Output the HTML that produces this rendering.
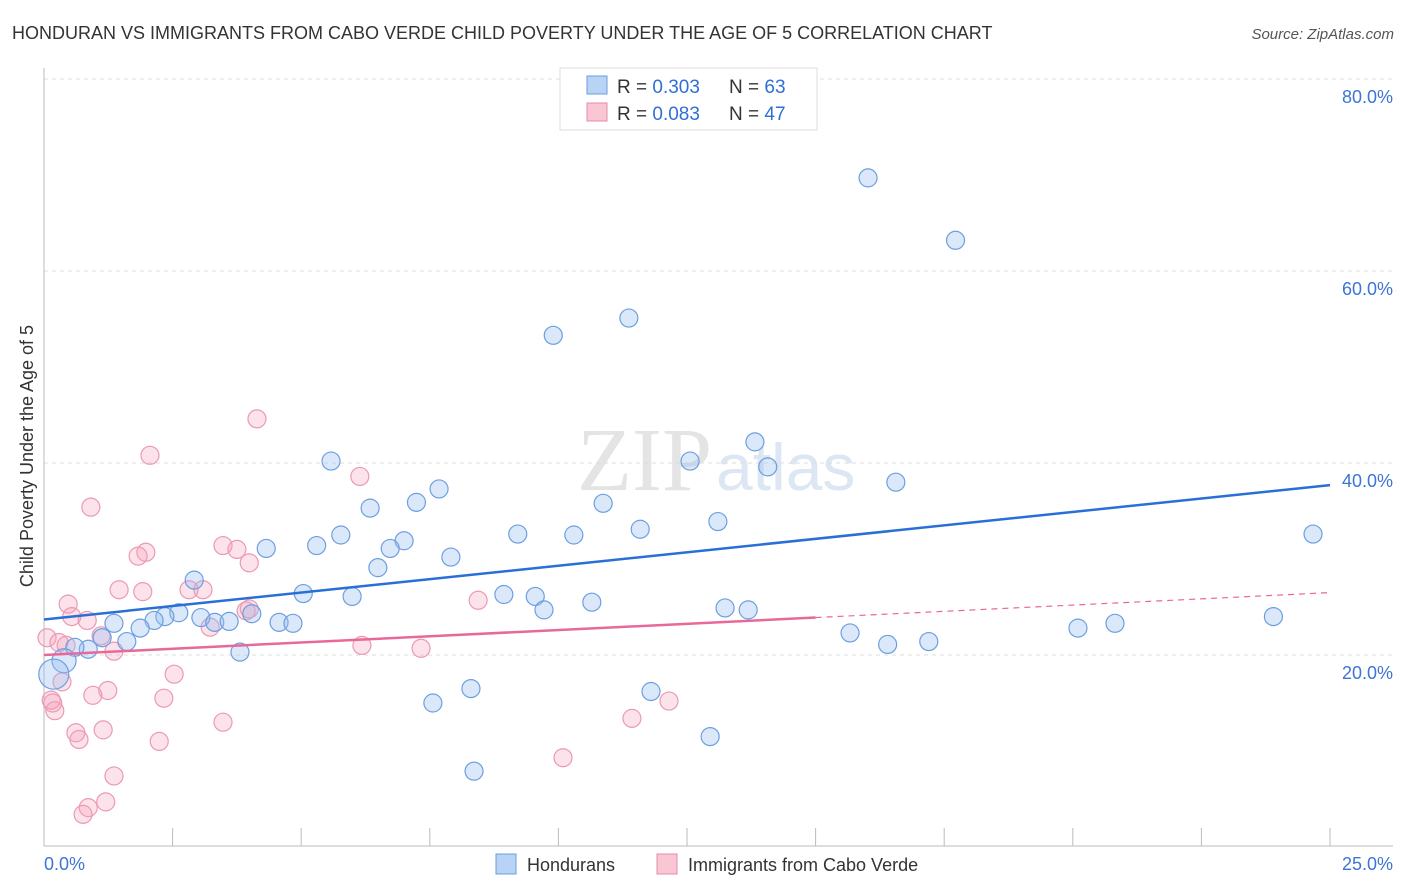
<!DOCTYPE html>
<html><head><meta charset="utf-8"><style>
body{margin:0;background:#fff;font-family:"Liberation Sans",sans-serif}
svg{display:block}
</style></head><body>
<svg id="c" width="1406" height="892">
<text x="12" y="39" font-size="18" fill="#333">HONDURAN VS IMMIGRANTS FROM CABO VERDE CHILD POVERTY UNDER THE AGE OF 5 CORRELATION CHART</text>
<text x="1394" y="39" font-size="15" fill="#555" font-style="italic" text-anchor="end">Source: ZipAtlas.com</text>
<text x="712" y="490" font-size="90" fill="#e4e4e4" text-anchor="end" font-family="Liberation Serif">ZIP</text>
<text x="716" y="490" font-size="66" fill="#dde7f4">atlas</text>
<g id="grid"></g>
<line x1="44" y1="68" x2="44" y2="846" stroke="#bbb"/>
<line x1="44" y1="846" x2="1393" y2="846" stroke="#bbb"/>
<g id="xt"></g>
<text x="44" y="870" font-size="18" fill="#3d74d6">0.0%</text>
<text x="1393" y="870" font-size="18" fill="#3d74d6" text-anchor="end">25.0%</text>
<text transform="translate(33,456) rotate(-90)" font-size="18" fill="#333" text-anchor="middle">Child Poverty Under the Age of 5</text>
<g id="pts"></g>
<g id="lines"></g>
<g>
<rect x="560" y="68" width="257" height="62" fill="#fff" stroke="#ddd"/>
<rect x="587" y="76" width="20" height="18" fill="#b8d3f4" stroke="#6a9ee0"/>
<rect x="587" y="103" width="20" height="18" fill="#f9c6d4" stroke="#e88aa8"/>
<text x="617" y="93" font-size="19" fill="#333">R = <tspan fill="#2f6fd6">0.303</tspan></text>
<text x="729" y="93" font-size="19" fill="#333">N = <tspan fill="#2f6fd6">63</tspan></text>
<text x="617" y="120" font-size="19" fill="#333">R = <tspan fill="#2f6fd6">0.083</tspan></text>
<text x="729" y="120" font-size="19" fill="#333">N = <tspan fill="#2f6fd6">47</tspan></text>
</g>
<g>
<rect x="496" y="854" width="20" height="20" fill="#b8d3f4" stroke="#6a9ee0"/>
<text x="527" y="871" font-size="18" fill="#333">Hondurans</text>
<rect x="657" y="854" width="20" height="20" fill="#f9c6d4" stroke="#e88aa8"/>
<text x="688" y="871" font-size="18" fill="#333">Immigrants from Cabo Verde</text>
</g>
</svg>
<script>
const yTicks=[20,40,60,80];
const xTicks=[0,2.5,5,7.5,10,12.5,15,17.5,20,22.5,25];
const blueX=[16.02,17.72,11.37,9.9,13.82,5.58,12.56,14.07,16.56,7.68,7.24,6.34,10.87,9.21,10.3,11.59,13.1,24.67,5.77,7.0,6.73,5.3,4.32,7.91,6.49,2.92,5.04,5.99,8.94,9.55,10.65,9.72,13.24,13.69,2.62,2.35,2.14,1.87,1.36,3.05,3.32,3.6,4.04,4.57,4.84,23.9,20.82,20.1,15.67,17.2,16.4,1.61,1.13,0.86,0.6,0.39,3.81,0.19,8.3,11.8,7.56,12.95,8.36];
const blueY=[69.7,63.2,55.1,53.3,42.2,40.2,40.2,39.6,38.0,37.3,35.9,35.3,35.8,32.6,32.5,33.1,33.9,32.6,32.5,31.9,31.1,31.4,31.1,30.2,29.1,27.8,26.4,26.1,26.3,26.1,25.5,24.7,24.9,24.7,24.4,24.0,23.6,22.8,23.3,23.9,23.4,23.5,24.3,23.4,23.3,24.0,23.3,22.8,22.3,21.4,21.1,21.4,21.8,20.6,20.8,19.4,20.3,18.0,16.5,16.2,15.0,11.5,7.9];
const blueR=[9,9,9,9,9,9,9,9,9,9,9,9,9,9,9,9,9,9,9,9,9,9,9,9,9,9,9,9,9,9,9,9,9,9,9,9,9,9,9,9,9,9,9,9,9,9,9,9,9,9,9,9,9,9,9,12,9,15,9,9,9,9,9];
const pinkX=[4.14,2.06,6.14,0.91,3.48,1.98,1.83,3.75,3.99,1.46,1.92,2.82,3.09,8.44,0.47,0.54,0.84,0.06,0.29,0.43,1.11,1.36,6.18,7.33,2.53,0.35,1.24,0.95,2.33,0.14,0.21,3.23,3.93,12.15,11.43,3.48,1.15,0.62,0.68,2.24,1.36,10.09,1.2,0.86,0.76,3.99,0.17];
const pinkY=[44.6,40.8,38.6,35.4,31.4,30.7,30.3,31.0,29.6,26.8,26.6,26.8,26.8,25.7,25.3,24.0,23.6,21.8,21.3,21.0,22.0,20.4,21.0,20.7,18.0,17.2,16.3,15.8,15.5,15.3,14.2,22.9,24.6,15.2,13.4,13.0,12.2,11.9,11.2,11.0,7.4,9.3,4.7,4.1,3.4,24.8,15.0];
const blueLine=[23.7,37.7];
const pinkLine=[20.0,26.5];
const pinkSolidEnd=15;
const sx=v=>44+v/25*1286, sy=v=>847-v*9.6;
const NS="http://www.w3.org/2000/svg";
function mk(t,a,p){const e=document.createElementNS(NS,t);for(const k in a)e.setAttribute(k,a[k]);p.appendChild(e);return e;}
const grid=document.getElementById('grid');
yTicks.forEach(v=>{
const l=mk('line',{x1:44,x2:1393,y1:sy(v),y2:sy(v),stroke:'#ddd','stroke-dasharray':'4,4'},grid);


const t=mk('text',{x:1393,y:sy(v)+24,'font-size':18,fill:'#3d74d6','text-anchor':'end'},grid);
t.textContent=v.toFixed(1)+'%';


});
const xt=document.getElementById('xt');
xTicks.forEach((v,i)=>{if(i==0)return;
const l=mk('line',{x1:sx(v),x2:sx(v),y1:828,y2:846,stroke:'#bbb'},xt);


});
const pts=document.getElementById('pts');
pinkX.forEach((x,i)=>{
const c=mk('circle',{cx:sx(x),cy:sy(pinkY[i]),r:9,fill:'rgba(245,160,185,0.3)',stroke:'#eb9ab2','stroke-width':1.2},pts);


});
blueX.forEach((x,i)=>{
const c=mk('circle',{cx:sx(x),cy:sy(blueY[i]),r:blueR[i],fill:'rgba(150,190,240,0.35)',stroke:'#6d9fe0','stroke-width':1.2},pts);


});
const lines=document.getElementById('lines');
const bl=mk('line',{x1:sx(0),y1:sy(blueLine[0]),x2:sx(25),y2:sy(blueLine[1]),stroke:'#2a6fd6','stroke-width':2.5},lines);


const pm=pinkLine[0]+(pinkLine[1]-pinkLine[0])*pinkSolidEnd/25;
const pl=mk('line',{x1:sx(0),y1:sy(pinkLine[0]),x2:sx(pinkSolidEnd),y2:sy(pm),stroke:'#e8689a','stroke-width':2.5},lines);


const pd=mk('line',{x1:sx(pinkSolidEnd),y1:sy(pm),x2:sx(25),y2:sy(pinkLine[1]),stroke:'#e8689a','stroke-width':1.2,'stroke-dasharray':'6,5'},lines);


</script>
</body></html>
